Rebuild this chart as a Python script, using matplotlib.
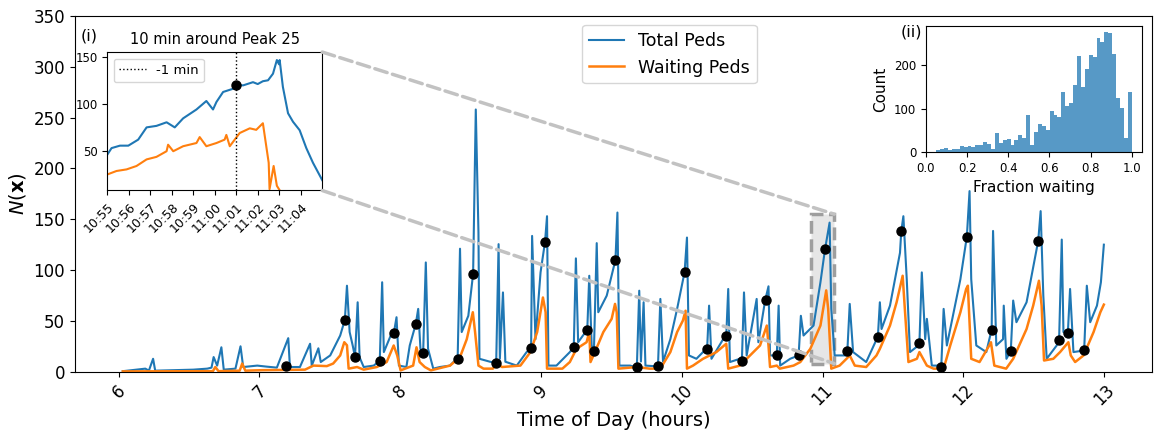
import numpy as np
import matplotlib.pyplot as plt
from matplotlib.patches import Rectangle, ConnectionPatch

# Main series (time of day in hours, number of pedestrians)
total_t = [6.03, 6.19, 6.215, 6.245, 6.26, 6.53, 6.63, 6.66, 6.675, 6.70, 6.73, 6.747, 6.83, 6.866,
           6.885, 6.985, 7.05, 7.124, 7.205, 7.217, 7.288, 7.36, 7.372, 7.419, 7.436, 7.503, 7.574,
           7.607, 7.622, 7.641, 7.664, 7.679, 7.698, 7.712, 7.741, 7.812, 7.855, 7.872, 7.884,
           7.943, 7.955, 7.974, 7.991, 8.044, 8.068, 8.111, 8.128, 8.144, 8.163, 8.182, 8.198,
           8.235, 8.282, 8.354, 8.378, 8.408, 8.425, 8.437, 8.484, 8.518, 8.537, 8.556, 8.563,
           8.638, 8.682, 8.699, 8.708, 8.73, 8.747, 8.828, 8.898, 8.93, 8.937, 8.961, 8.997,
           9.029, 9.043, 9.053, 9.11, 9.205, 9.233, 9.248, 9.264, 9.329, 9.343, 9.36, 9.376,
           9.396, 9.407, 9.467, 9.529, 9.543, 9.557, 9.633, 9.681, 9.698, 9.71, 9.729, 9.742,
           9.831, 9.848, 9.867, 9.919, 9.967, 10.02, 10.037, 10.051, 10.104, 10.163, 10.18,
           10.194, 10.211, 10.294, 10.316, 10.33, 10.342, 10.413, 10.427, 10.442, 10.461, 10.532,
           10.544, 10.592, 10.616, 10.627, 10.675, 10.688, 10.699, 10.77, 10.83, 10.846, 10.865,
           10.936, 10.985, 11.017, 11.05, 11.062, 11.086, 11.169, 11.176, 11.193, 11.217, 11.31,
           11.393, 11.407, 11.419, 11.479, 11.55, 11.559, 11.574, 11.598, 11.621, 11.681, 11.688,
           11.705, 11.729, 11.741, 11.776, 11.836, 11.843, 11.86, 11.883, 11.979, 12.025, 12.044,
           12.056, 12.092, 12.163, 12.201, 12.211, 12.234, 12.282, 12.287, 12.306, 12.337, 12.354,
           12.377, 12.449, 12.532, 12.549, 12.568, 12.592, 12.663, 12.68, 12.699, 12.711, 12.742,
           12.758, 12.782, 12.858, 12.877, 12.901, 12.949, 12.977, 12.998]
total_n = [0.5, 3, 1, 12.7, 1, 2, 3, 4, 14.4, 6, 24, 2, 3, 25,
           4.6, 6, 5, 4, 33, 4.6, 4.6, 27.5, 6, 23, 9.5, 16, 35.6,
           51, 84.6, 39, 25, 14.4, 68.3, 14, 4.6, 6, 10.8, 88, 19.3,
           39, 38, 53.6, 6, 4.6, 25.8, 47, 61.8, 22.5, 18.3, 107.5, 22.5,
           3, 4.6, 6, 9.5, 12, 121, 39, 55, 96.4, 258, 137, 12.7,
           9.8, 8.8, 125.5, 12.7, 78, 9.8, 6, 19.3, 23.2, 133.6, 32, 97.7,
           128, 153, 6, 6, 19.3, 24.5, 111.5, 29, 41.5, 94.4, 25.8, 20.3,
           126.5, 58.5, 74.8, 110, 156.6, 6, 6, 4.2, 79.7, 10, 68.3, 6,
           5.2, 71.6, 9.8, 32, 61.8, 98, 132, 16, 12.7, 21, 21.9,
           65, 12.7, 32, 35.3, 81.4, 9.5, 12.7, 10.8, 78, 16, 71.6,
           29, 70, 84, 16, 16, 65, 6, 12.7, 16, 55, 35.6,
           45.4, 88, 120, 146.7, 61.8, 16, 16, 19.9, 66.7, 19.3, 9.5,
           34.6, 68.3, 42, 65, 117, 138, 153, 91, 19.3, 25.8, 28.4,
           97.7, 32, 52, 6, 6, 4.2, 61.8, 25.8, 91, 133, 177.7,
           91, 25.8, 19.3, 41.5, 138.5, 25.8, 32, 65, 12.7, 20.3, 70,
           48.7, 68.3, 129, 158, 74.8, 12.7, 25.8, 31, 130, 39, 37.6,
           81.4, 19.3, 20.9, 84.6, 48.7, 65, 88, 125]

wait_t = [6.03, 6.67, 6.687, 6.71, 6.86, 6.878, 6.90, 7.024, 7.324, 7.384, 7.479, 7.524, 7.574,
          7.603, 7.622, 7.634, 7.694, 7.741, 7.834, 7.904, 7.954, 7.979, 8.003, 8.092, 8.116,
          8.138, 8.175, 8.218, 8.354, 8.425, 8.473, 8.516, 8.532, 8.556, 8.592, 8.658, 8.687,
          8.723, 8.854, 8.925, 8.973, 9.014, 9.033, 9.043, 9.152, 9.205, 9.252, 9.324, 9.343,
          9.352, 9.383, 9.443, 9.502, 9.526, 9.538, 9.55, 9.681, 9.772, 9.848, 9.919, 9.967,
          10.008, 10.027, 10.037, 10.08, 10.151, 10.246, 10.316, 10.33, 10.413, 10.485, 10.556,
          10.604, 10.616, 10.627, 10.675, 10.696, 10.794, 10.842, 10.913, 10.985, 11.026, 11.04,
          11.062, 11.121, 11.17, 11.193, 11.229, 11.31, 11.383, 11.407, 11.479, 11.526, 11.569,
          11.586, 11.61, 11.67, 11.688, 11.741, 11.788, 11.86, 11.907, 11.979, 12.02, 12.032,
          12.056, 12.115, 12.184, 12.196, 12.22, 12.304, 12.354, 12.449, 12.496, 12.537, 12.556,
          12.573, 12.639, 12.687, 12.746, 12.763, 12.794, 12.854, 12.925, 12.973, 12.998]
wait_n = [0.3, 0.5, 4.6, 0.5, 1, 8, 1, 1.5, 2, 6, 5.5, 8, 16,
          29, 26, 3, 4.6, 2, 4.6, 9.5, 25.8, 16, 1.3, 6, 24,
          9.5, 4.6, 1.3, 6, 14.4, 32, 58.5, 39, 6, 3, 3, 8,
          4.6, 6, 19.3, 39, 73, 58.5, 3, 3, 9.5, 22.5, 29, 39,
          9.5, 19.3, 39, 52, 66.7, 58.5, 3, 4.6, 3, 3, 19.3, 39,
          50.3, 60, 3, 6, 12.7, 19.3, 27.5, 3, 6, 16, 25.8,
          45.4, 25.8, 4.6, 6, 3, 6, 9.5, 22.5, 45.4, 80, 61.8,
          3, 6, 12.7, 16, 6, 4.6, 16, 22.5, 45.4, 68.3, 94.4,
          58.5, 9.5, 12.7, 19.3, 6, 3, 3, 25.8, 58.5, 81.4, 84.6,
          12.7, 9.5, 25.8, 29, 6, 3, 12.7, 42, 65, 89.5, 65,
          11, 12.7, 19.3, 29, 16, 9.5, 16, 39, 58.5, 66]

# Peak markers
peak_t = [7.186, 7.607, 7.679, 7.855, 7.955, 8.111, 8.163, 8.408, 8.518, 8.682, 8.93, 9.029,
          9.233, 9.329, 9.376, 9.529, 9.681, 9.831, 10.02, 10.18, 10.316, 10.427, 10.596, 10.675,
          10.83, 11.017, 11.176, 11.393, 11.559, 11.688, 11.843, 12.025, 12.201, 12.337, 12.532,
          12.68, 12.742, 12.858]
peak_n = [5.2, 51.3, 14.4, 10.8, 38.2, 47, 18.3, 12, 96.4, 8.8, 23.2, 128,
          24.5, 41.5, 20.3, 110, 4.2, 5.2, 98.3, 21.9, 35.3, 10.8, 70.3, 16,
          16, 120.3, 19.9, 34.6, 138.2, 28.4, 4.2, 133, 41.5, 20.3, 129,
          31, 37.6, 20.9]

# Inset (i): minutes after 10:55
zoom_total_m = [0, 0.2, 0.59, 0.98, 1.44, 1.83, 2.29, 2.76, 3.14, 3.53, 4.15, 4.61, 4.92, 5.08,
                5.39, 5.85, 6.0, 6.32, 6.78, 7.0, 7.24, 7.48, 7.71, 7.89, 7.99, 8.02, 8.17, 8.41,
                8.64, 8.95, 9.26, 9.57, 10.0]
zoom_total_n = [46, 53, 55.6, 55.6, 62, 75, 76.6, 80.4, 75, 84.6, 94, 103, 94, 102,
                112.6, 116, 120, 119.6, 123, 121, 124, 125, 132, 146.5, 142, 146.5, 118, 90,
                81, 72, 53, 37.4, 19]
zoom_wait_m = [0, 0.43, 0.9, 1.36, 1.83, 2.29, 2.76, 2.83, 3.07, 3.53, 4.15, 4.3, 4.61, 5.08,
               5.46, 5.54, 5.7, 6.16, 6.63, 6.93, 7.09, 7.24, 7.51, 7.55, 7.74, 7.89, 8.0]
zoom_wait_n = [25, 28.7, 30.4, 34, 41, 43.7, 49.7, 56.6, 49.7, 55, 58.4, 64.7, 55, 58.4,
               62, 67, 55, 69, 74, 72.4, 76, 79.4, 37.4, 9.4, 34, 13, 9]
zoom_labels = ["10:55", "10:56", "10:57", "10:58", "10:59", "11:00", "11:01", "11:02", "11:03", "11:04"]
peak25_m = 6.0
peak25_n = 120

# Inset (ii): histogram of fraction waiting
hist_counts = [5, 8, 10, 5, 8, 8, 14, 12, 14, 12, 17, 15, 22, 18, 8, 43, 20, 28, 30, 17,
               27, 40, 33, 86, 17, 45, 65, 60, 50, 95, 85, 80, 137, 105, 113, 153, 220, 150,
               192, 224, 218, 262, 252, 276, 273, 225, 125, 101, 33, 137]

blue = "#1f77b4"
orange = "#ff7f0e"

fig = plt.figure(figsize=(11.62, 4.3), dpi=100)
ax = fig.add_axes([0.0645, 0.1356, 0.9269, 0.8272])
ax.plot(total_t, total_n, color=blue, lw=1.5, label="Total Peds")
ax.plot(wait_t, wait_n, color=orange, lw=1.8, label="Waiting Peds")
ax.plot(peak_t, peak_n, "o", color="black", ms=6.5, zorder=4)
ax.set_xlim(5.69, 13.34)
ax.set_ylim(0, 350)
ax.tick_params(axis="both", labelsize=12)
ax.tick_params(axis="x", labelrotation=45)
ax.set_xlabel("Time of Day (hours)", fontsize=14, labelpad=1)
ax.set_ylabel(r"$N(\mathbf{x})$", fontsize=14)
ax.legend(loc="upper center", bbox_to_anchor=(0.552, 0.975), borderaxespad=0, fontsize=12.5)

# zoom rectangle
y0, y1 = 8, 155
x0, x1 = 11 - 5 / 60, 11 + 5 / 60
ax.add_patch(Rectangle((x0, y0), x1 - x0, y1 - y0, facecolor="0.9", edgecolor="0.62",
                       ls="--", lw=2.5, zorder=1.5))

# inset (i)
axi = fig.add_axes([0.0923, 0.557, 0.185, 0.322])
axi.plot(zoom_total_m, zoom_total_n, color=blue, lw=1.5)
axi.plot(zoom_wait_m, zoom_wait_n, color=orange, lw=1.5)
axi.axvline(peak25_m, color="black", ls=":", lw=1, label="-1 min")
axi.plot([peak25_m], [peak25_n], "o", color="black", ms=6.5)
axi.set_xlim(0, 10)
axi.set_ylim(y0, y1)
axi.set_xticks(range(len(zoom_labels)))
axi.set_xticklabels(zoom_labels, rotation=45, ha="right", rotation_mode="anchor")
axi.tick_params(axis="x", labelsize=9)
axi.tick_params(axis="y", labelsize=8.5)
axi.set_yticks([50, 100, 150])
axi.set_title("10 min around Peak 25", fontsize=10.5)
axi.legend(loc="upper left", fontsize=9.5)
axi.text(-0.045, 1.115, "(i)", transform=axi.transAxes, fontsize=11.5, ha="right", va="center")

for ya in (1, 0):
    con = ConnectionPatch(xyA=(1, ya), coordsA=axi.transAxes,
                          xyB=(x1, y1 if ya == 1 else y0), coordsB=ax.transData,
                          color="0.76", ls="--", lw=2.5, zorder=1.6)
    fig.add_artist(con)

# inset (ii)
axh = fig.add_axes([0.7969, 0.6465, 0.1859, 0.293])
edges = np.linspace(0.05, 1.0, len(hist_counts) + 1)
axh.bar(edges[:-1], hist_counts, width=np.diff(edges), align="edge", color=blue, alpha=0.75, lw=0)
axh.set_xlim(0, 1.05)
axh.set_yticks([0, 100, 200])
axh.tick_params(labelsize=8.5)
axh.set_xlabel("Fraction waiting", fontsize=11)
axh.set_ylabel("Count", fontsize=11)
axh.text(-0.02, 0.956, "(ii)", transform=axh.transAxes, fontsize=11.5, ha="right", va="center")

fig.savefig("out.png", dpi=100)
